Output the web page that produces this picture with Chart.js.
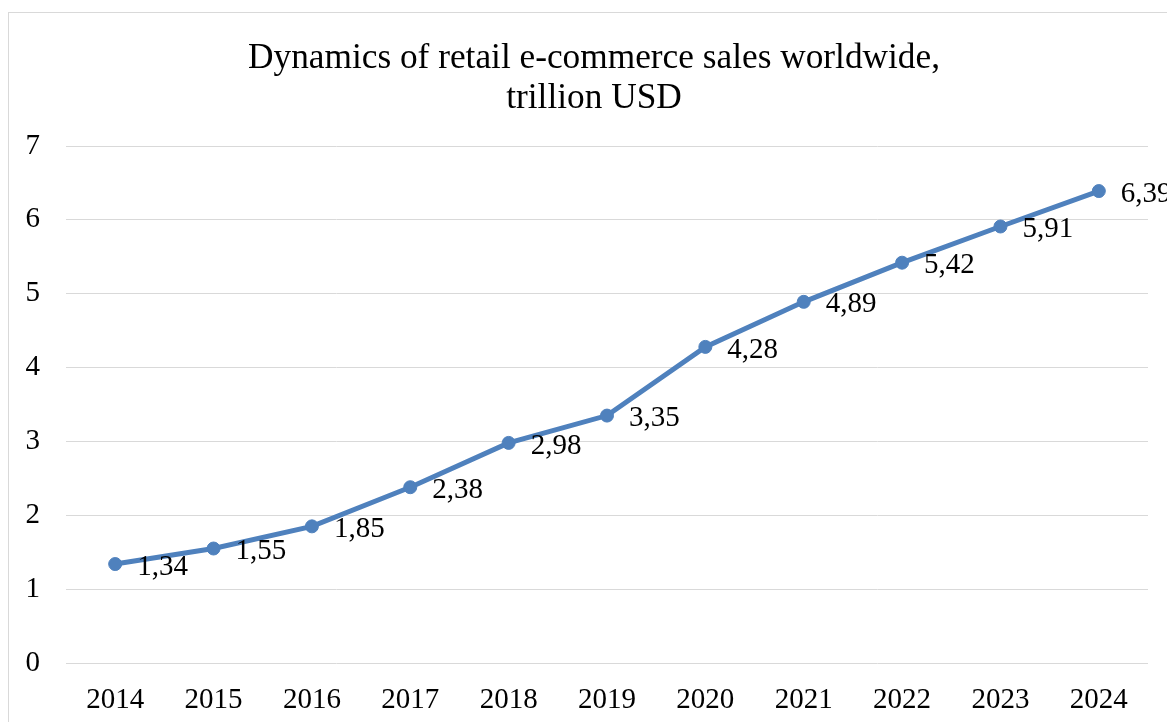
<!DOCTYPE html>
<html>
<head>
<meta charset="utf-8">
<script src="https://cdn.jsdelivr.net/npm/chart.js@4/dist/chart.umd.min.js"></script>
<style>
  html, body { margin: 0; padding: 0; background: #fff; overflow: hidden; }
  #wrap { position: relative; width: 1167px; height: 722px; }
  #frame { position: absolute; left: 8px; top: 12px; width: 1300px; height: 900px; border: 1px solid #d9d9d9; box-sizing: border-box; }
  canvas { position: absolute; left: 0; top: 0; }
</style>
</head>
<body>
<div id="wrap">
  <div id="frame"></div>
  <canvas id="c" width="1167" height="722"></canvas>
</div>
<script>
const years = ['2014','2015','2016','2017','2018','2019','2020','2021','2022','2023','2024'];
const sales = [1.34, 1.55, 1.85, 2.38, 2.98, 3.35, 4.28, 4.89, 5.42, 5.91, 6.39];
const salesLabels = ['1,34','1,55','1,85','2,38','2,98','3,35','4,28','4,89','5,42','5,91','6,39'];
const titleLines = ['Dynamics of retail e-commerce sales worldwide,', 'trillion USD'];
const yMin = 0, yMax = 7, yStep = 1;

const FONT = '"Liberation Serif", "Times New Roman", serif';
const LINE_COLOR = '#4f81bd';

const dataLabelPlugin = {
  id: 'dataLabels',
  afterDatasetsDraw(chart) {
    const ctx = chart.ctx;
    const meta = chart.getDatasetMeta(0);
    ctx.save();
    ctx.font = '29px ' + FONT;
    ctx.fillStyle = '#000';
    ctx.textAlign = 'left';
    ctx.textBaseline = 'middle';
    meta.data.forEach((pt, i) => {
      ctx.fillText(salesLabels[i], pt.x + 22, pt.y + 3);
    });
    ctx.restore();
  }
};

new Chart(document.getElementById('c'), {
  type: 'line',
  data: {
    labels: years,
    datasets: [{
      data: sales,
      yAxisID: 'y',
      borderColor: LINE_COLOR,
      backgroundColor: LINE_COLOR,
      borderWidth: 5,
      pointRadius: 6.5,
      pointHoverRadius: 6.5,
      pointBackgroundColor: LINE_COLOR,
      pointBorderColor: LINE_COLOR,
      pointBorderWidth: 1,
      tension: 0,
      fill: false
    }]
  },
  options: {
    responsive: false,
    animation: false,
    devicePixelRatio: 1,
    layout: { padding: { left: 26, right: 5, top: 0, bottom: 0 } },
    plugins: {
      legend: { display: false },
      tooltip: { enabled: false },
      title: {
        display: true,
        text: titleLines,
        color: '#000',
        font: { family: FONT, size: 35.3, weight: 'normal', lineHeight: 40/35.3 },
        padding: { top: 39, bottom: 27 }
      }
    },
    scales: {
      x: {
        offset: true,
        grid: { display: false, drawTicks: false },
        border: { display: false },
        ticks: { color: '#000', font: { family: FONT, size: 29 }, padding: 20, maxRotation: 0 },
        afterFit(s) { s.height = 59; }
      },
      y: {
        position: 'left',
        min: yMin, max: yMax,
        grid: { color: '#d9d9d9', lineWidth: 1, drawTicks: false },
        border: { display: false },
        ticks: { stepSize: yStep, color: '#000', font: { family: FONT, size: 29 }, padding: 26 },
        afterFit(s) { s.width = 40; }
      },
      yRight: {
        position: 'right',
        display: true,
        min: yMin, max: yMax,
        grid: { display: false, drawTicks: false },
        border: { display: false },
        ticks: { display: false },
        afterFit(s) { s.width = 14; }
      }
    }
  },
  plugins: [dataLabelPlugin]
});
</script>
</body>
</html>
